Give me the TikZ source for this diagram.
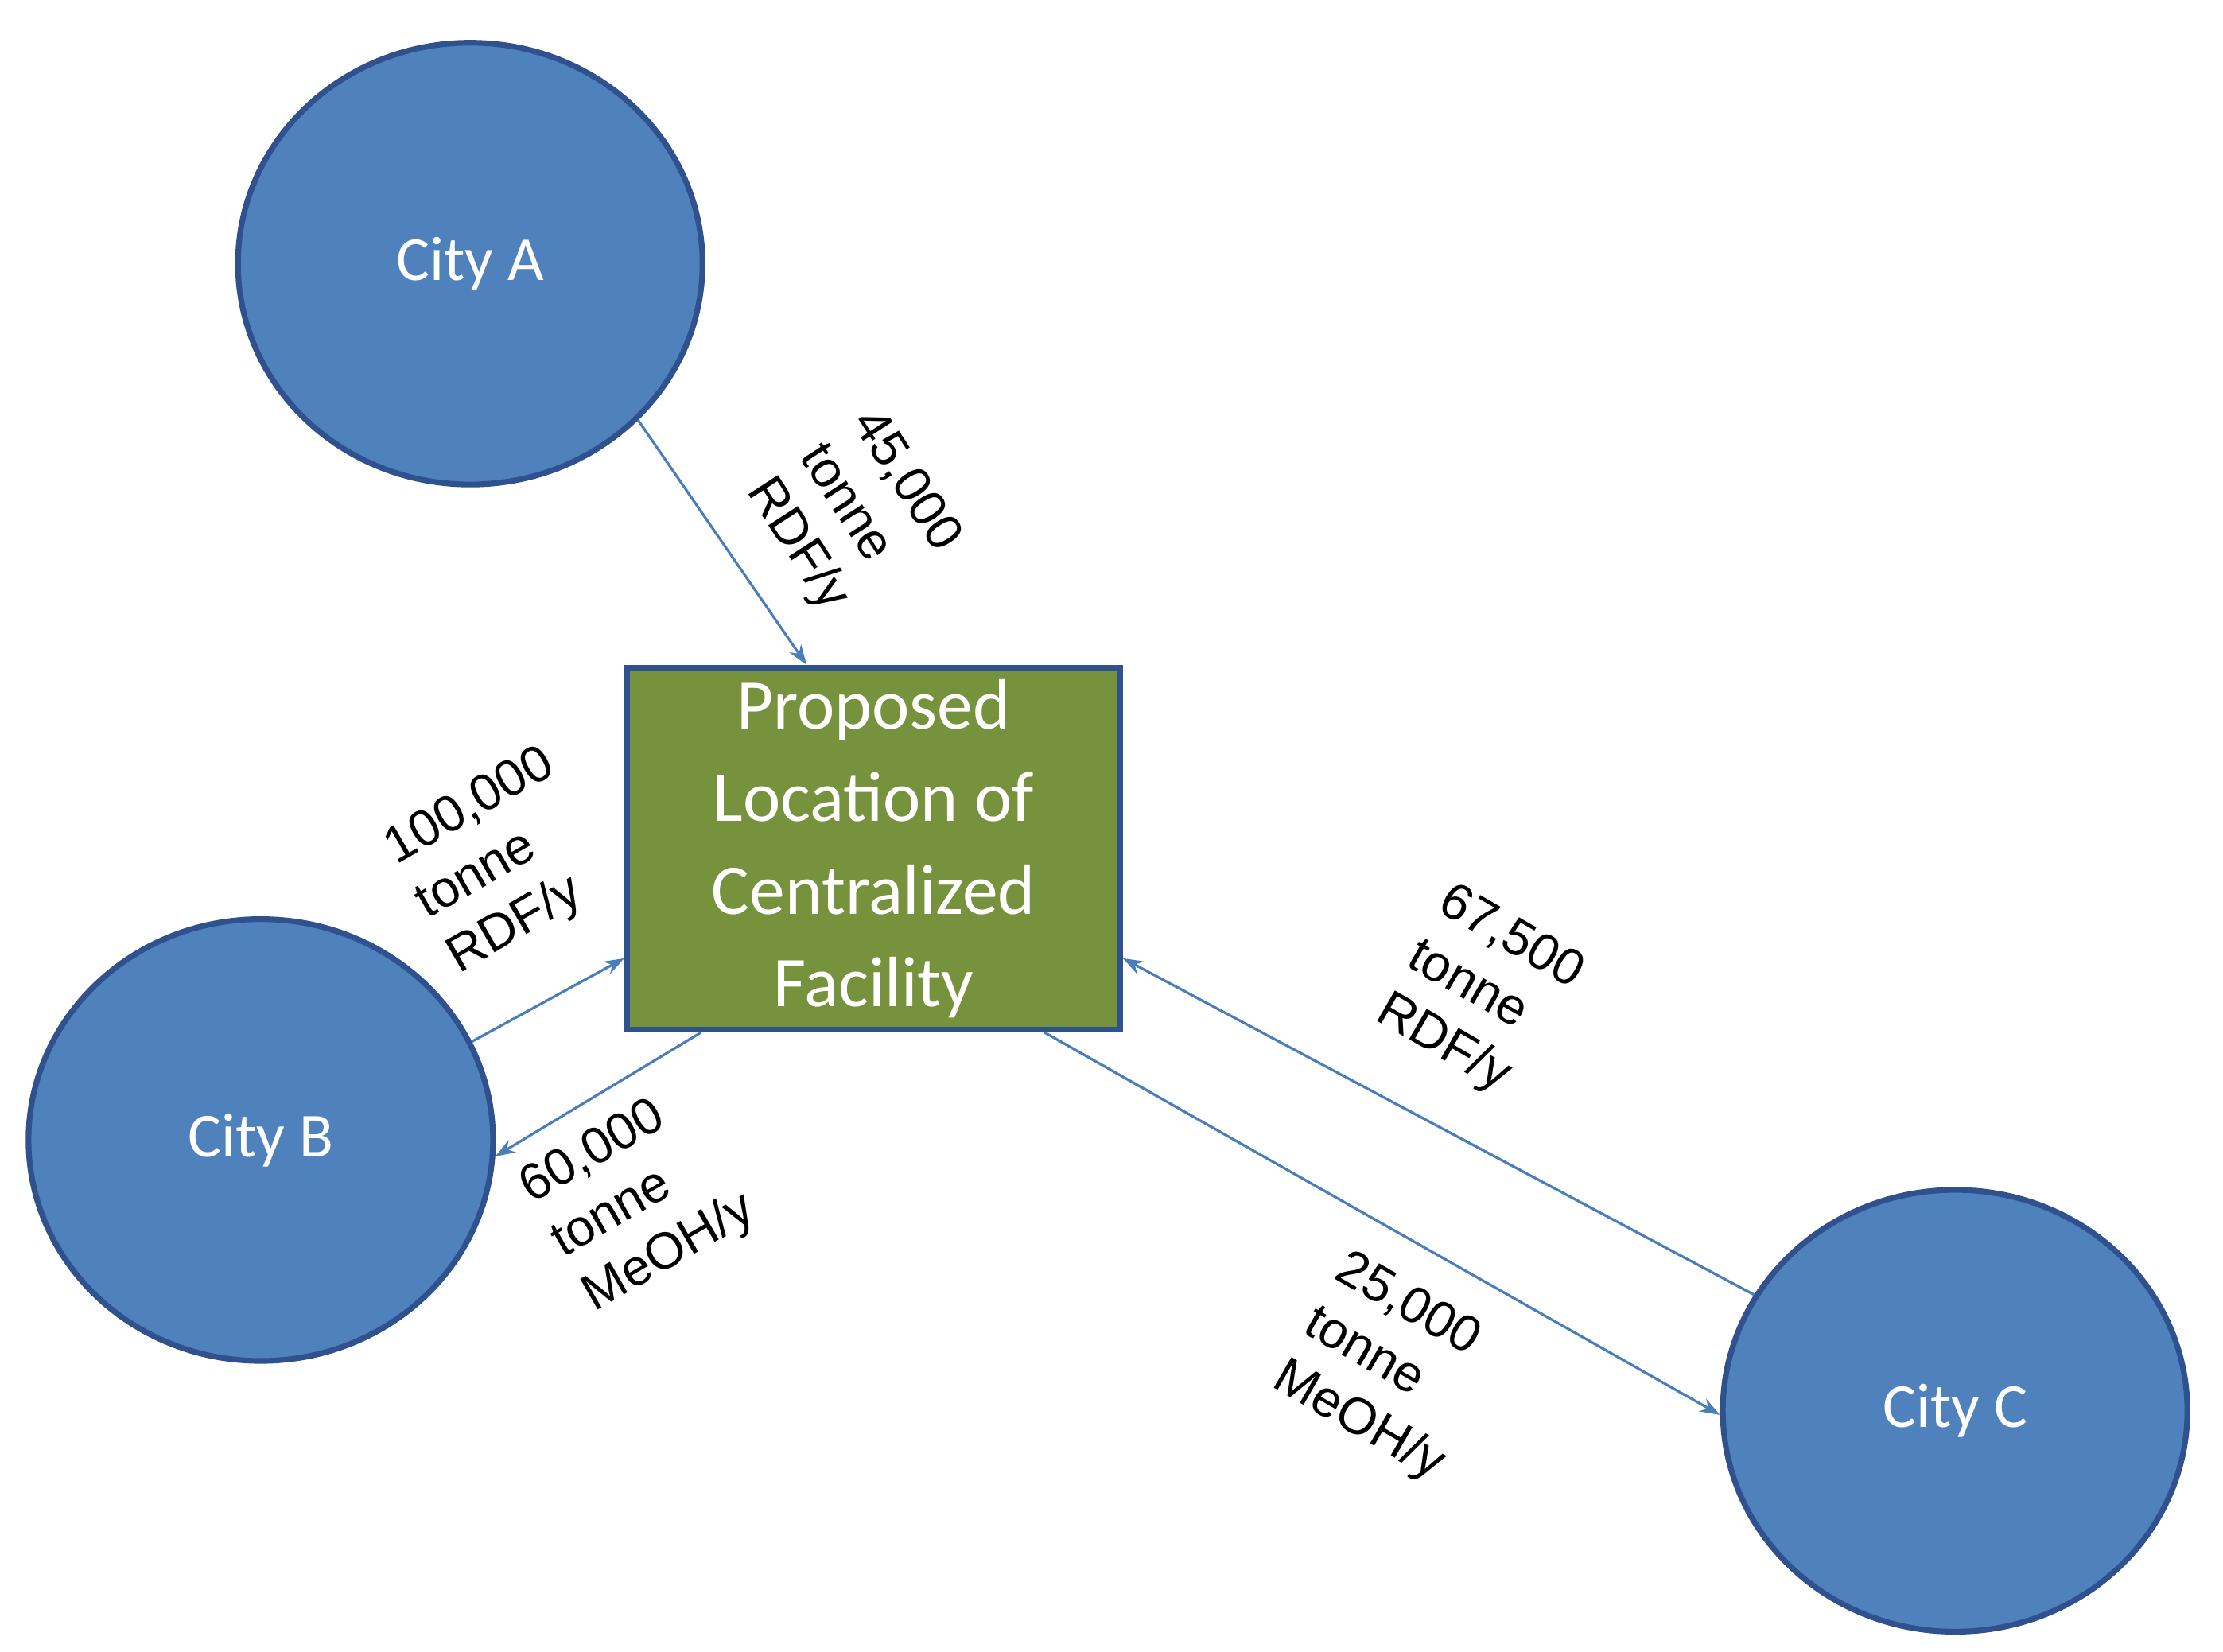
\documentclass[tikz,border=0pt]{standalone}
\usepackage{fontspec}
\setmainfont{Liberation Sans}
\newfontfamily\calfont{Carlito}
\usetikzlibrary{shapes.geometric,arrows.meta,calc}
\definecolor{cityfill}{RGB}{79,129,189}
\definecolor{cityline}{RGB}{47,82,143}
\definecolor{boxfill}{RGB}{118,146,60}
\definecolor{arr}{RGB}{74,126,187}
\begin{document}
\begin{tikzpicture}[x=0.5pt,y=-0.5pt,
 city/.style={ellipse,fill=cityfill,draw=cityline,line width=2pt,minimum width=163pt,minimum height=155pt,text=white,font=\calfont\fontsize{22}{26}\selectfont},
 fac/.style={rectangle,fill=boxfill,draw=cityline,line width=2pt,minimum width=173pt,minimum height=127pt,text=white,align=center,font=\calfont\fontsize{25}{32.5}\selectfont,inner sep=0pt},
 flow/.style={draw=arr,line width=0.9pt,-{Stealth[length=7pt,width=5pt]}},
 lab/.style={align=left,font=\fontsize{18}{22}\selectfont,inner sep=0pt}]
\useasboundingbox (0,0) rectangle (1560,1159);
\node[city] (A) at (330,185) {City A};
\node[city] (B) at (183,800) {City B};
\node[city] (C) at (1372,990) {City C};
\node[fac] (F) at (613,595.5) {Proposed\\Location of\\Centralized\\Facility};
\draw[flow] (A.-43) -- ($(F.north west)+(128,0)$);
\draw[flow] (B.25) -- ($(F.south west)+(0,-52)$);
\draw[flow] ($(F.south west)+(54,0)$) -- (B.-4);
\draw[flow] (C.150.5) -- ($(F.south east)+(0,-52)$);
\draw[flow] ($(F.south east)+(-55,0)$) -- (C.181);
\node[lab,rotate=-57] (l1) at (598,362) {45,000\\tonne\\RDF/y};
\node[lab,rotate=30] (l2) at (352,605) {100,000\\tonne\\RDF/y};
\node[lab,rotate=30] (l3) at (448,842) {60,000\\tonne\\MeOH/y};
\node[lab,rotate=-30] (l4) at (1038,697) {67,500\\tonne\\RDF/y};
\node[lab,rotate=-30] (l5) at (975,960) {25,000\\tonne\\MeOH/y};
\end{tikzpicture}
\end{document}
